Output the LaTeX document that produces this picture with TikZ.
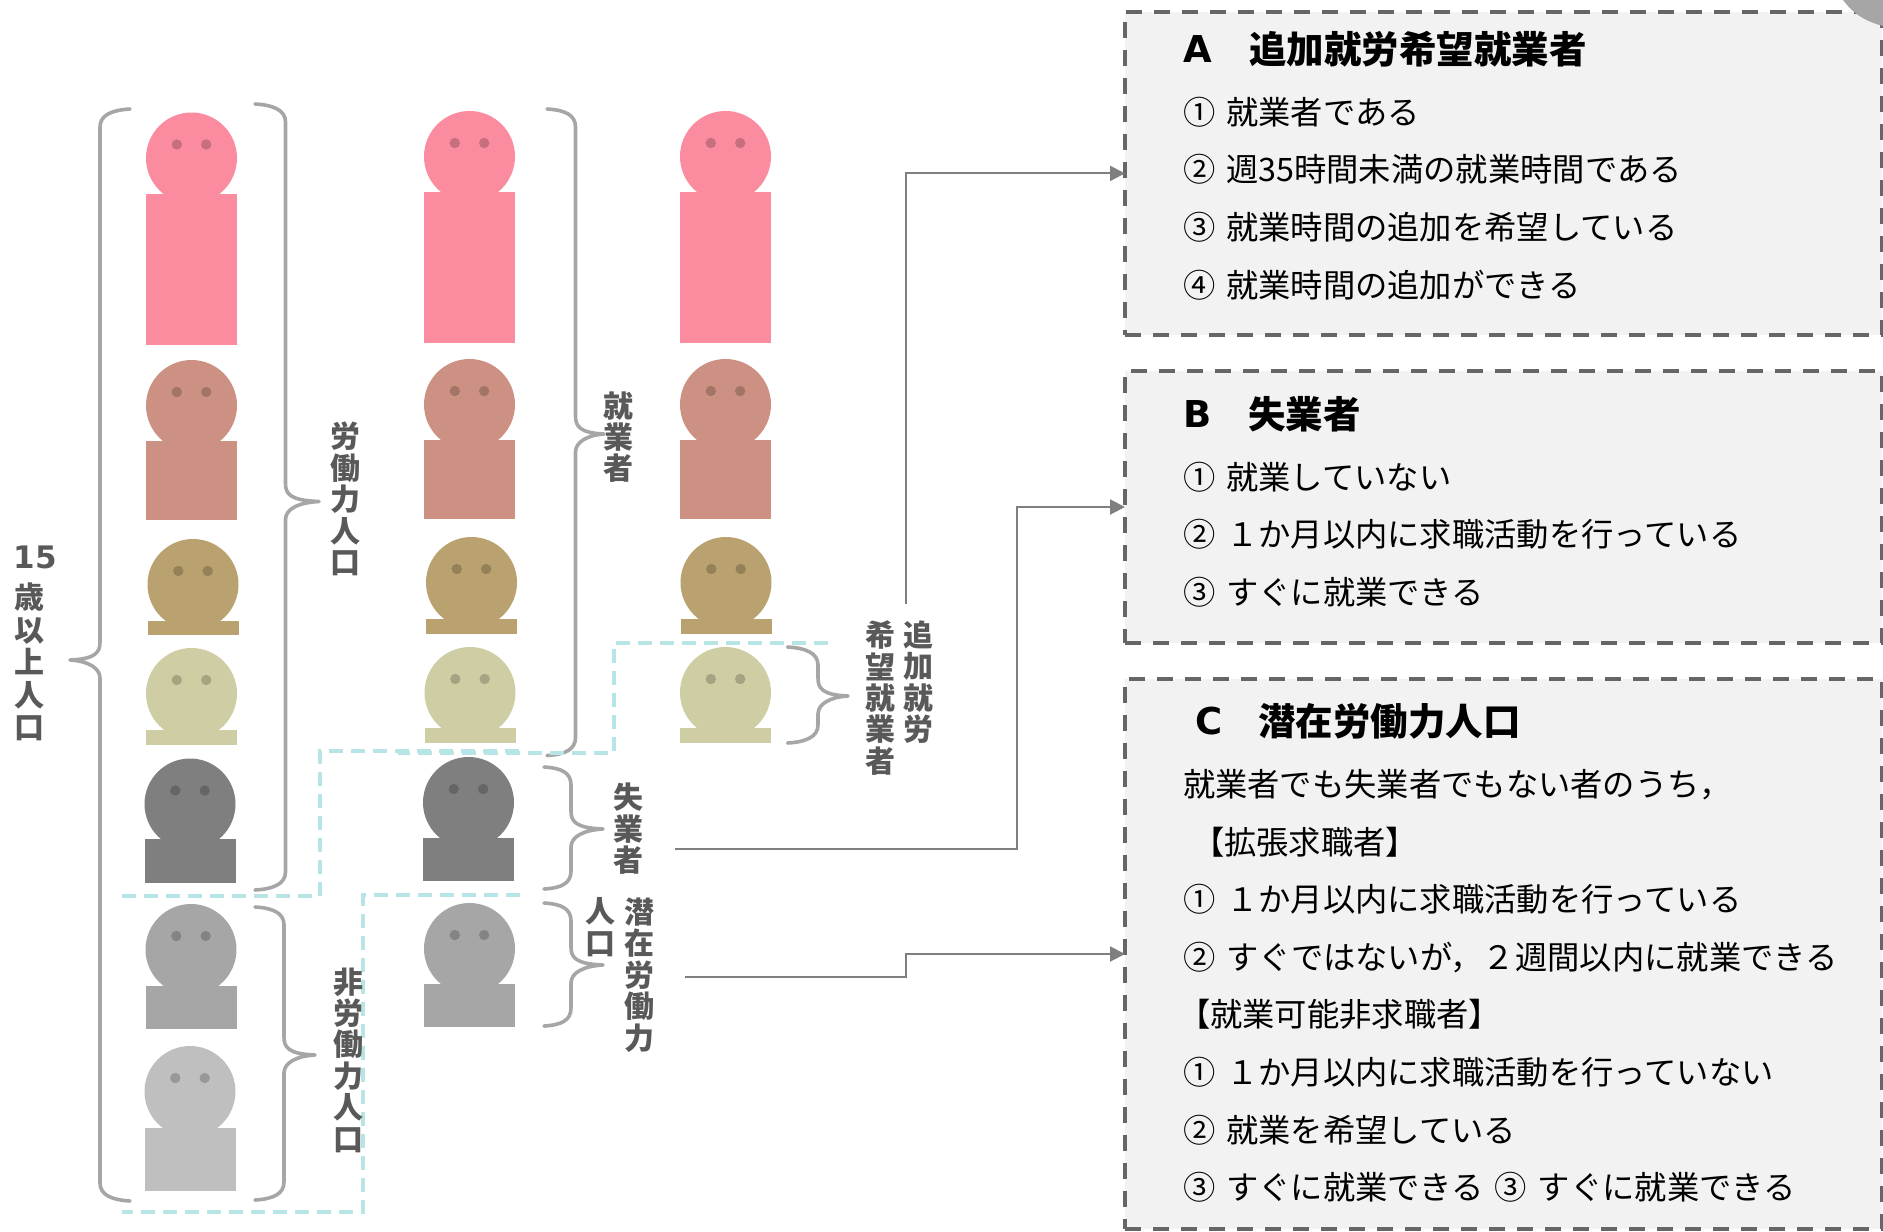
\documentclass[tikz,border=0pt]{standalone}
\usepackage{fontspec}
\setmainfont[WordSpace=1.5]{Noto Sans CJK JP}
\newfontfamily\latinb{DejaVu Sans}
\usetikzlibrary{arrows.meta}
\definecolor{cpink}{HTML}{FB8B9F}
\definecolor{cbrown}{HTML}{CC9183}
\definecolor{ctan}{HTML}{B9A26F}
\definecolor{ccream}{HTML}{CFCDA3}
\definecolor{cdark}{HTML}{7F7F7F}
\definecolor{cgray}{HTML}{A6A6A6}
\definecolor{clight}{HTML}{BFBFBF}
\definecolor{cteal}{HTML}{B7E4E4}
\definecolor{clabel}{HTML}{595959}
\definecolor{cbox}{HTML}{F2F2F2}
\definecolor{cboxline}{HTML}{666666}
\tikzset{
  panel/.style={draw=cboxline,fill=cbox,line width=2pt,dash pattern=on 8pt off 6pt,
    rectangle,inner sep=0pt,outer sep=0pt,minimum width=378.5pt},
  bline/.style={anchor=west,inner sep=0pt,outer sep=0pt,text=black,
    font=\fontsize{16.15}{18}\selectfont,text height=12pt,text depth=0pt},
  btitle/.style={anchor=west,inner sep=0pt,outer sep=0pt,text=black,
    font=\fontsize{18.75}{20}\selectfont\bfseries,text height=14pt,text depth=0pt},
  bletter/.style={anchor=west,inner sep=0pt,outer sep=0pt,text=black,
    font=\fontsize{18.5}{20}\selectfont\latinb\bfseries,text height=13pt,text depth=0pt},
  vlabel/.style={align=center,inner sep=0pt,outer sep=0pt,text=clabel,
    font=\fontsize{15}{15.7}\selectfont\bfseries},
  bracepath/.style={draw=cgray,line width=1.8pt,line cap=round,line join=round},
  tealline/.style={draw=cteal,line width=2pt,dash pattern=on 7pt off 4pt},
  conn/.style={draw=cdark,line width=1pt,-{Triangle[length=7.5pt,width=7.5pt]}},
}
% x centre, head top, body top, body bottom, colour
\newcommand{\figperson}[5]{%
  \fill[#5] (#1,#2+45.5) circle[radius=22.75pt];
  \fill[#5] (#1-45.5,#3) rectangle (#1+45.5,#4);
  \fill[black,opacity=.2] (#1-14.7,#2+32) circle[radius=2.6pt] (#1+14.7,#2+32) circle[radius=2.6pt];
}
% x end, x stem, x tip, y top, y tip, y bottom
\newcommand{\figbrace}[6]{%
  \pgfmathsetmacro{\sg}{(#2>#1)?1:-1}%
  \pgfmathsetmacro{\xa}{#1+\sg*18}%
  \pgfmathsetmacro{\xb}{#2+\sg*4}%
  \pgfmathsetmacro{\xc}{#2+\sg*12}%
  \draw[bracepath] (#1,#4) .. controls (\xa,#4+1) and (#2,#4+6) .. (#2,#4+18)
    -- (#2,#5-18) .. controls (#2,#5-8) and (\xb,#5-1) .. (#3,#5)
    .. controls (\xc,#5+1) and (#2,#5+8) .. (#2,#5+18)
    -- (#2,#6-18) .. controls (#2,#6-6) and (\xa,#6-1) .. (#1,#6);
}
\begin{document}
\begin{tikzpicture}[x=0.5pt,y=-0.5pt]
\useasboundingbox (0,0) rectangle (1883,1231);
\fill[white] (0,0) rectangle (1883,1231);

% column 1
\figperson{191.5}{112.5}{194}{345}{cpink}
\figperson{191.5}{360}{441}{520}{cbrown}
\figperson{193}{539}{620.5}{635}{ctan}
\figperson{191.5}{648}{730}{745}{ccream}
\figperson{190}{758.5}{839}{882.5}{cdark}
\figperson{191}{904}{986}{1029}{cgray}
\figperson{190}{1046}{1128}{1191}{clight}
% column 2
\figperson{469.5}{111}{192}{343}{cpink}
\figperson{469.5}{359}{440}{519}{cbrown}
\figperson{471.5}{537}{619}{634}{ctan}
\figperson{470}{647}{728}{743}{ccream}
\figperson{468.5}{757}{838}{881}{cdark}
\figperson{469.5}{903}{984}{1027}{cgray}
% column 3
\figperson{725.5}{111}{192}{343}{cpink}
\figperson{725.5}{359}{440}{519}{cbrown}
\figperson{726}{537}{619}{634}{ctan}
\figperson{725.5}{647}{728}{743}{ccream}

% braces
\figbrace{130}{100}{70}{109}{660}{1201}
\figbrace{255}{285.5}{319}{104}{501.5}{890}
\figbrace{255}{284}{315}{907}{1055}{1200}
\figbrace{547}{575.5}{604}{109}{434}{755.5}
\figbrace{544}{571}{603}{767}{829}{889}
\figbrace{544}{571}{603}{903}{965}{1026}
\figbrace{787.5}{818}{848}{647}{696}{743}

% dashed separators
\draw[tealline] (828,643) -- (613.5,643) -- (613.5,753) -- (398,753);
\draw[tealline] (519,751) -- (320,751) -- (320,896) -- (120,896);
\draw[tealline] (520,895) -- (362.5,895) -- (362.5,1212) -- (122,1212);

% panels
\node[panel,minimum height=161.65pt] (boxA) at (1503.5,173.4) {};
\node[panel,minimum height=136pt] (boxB) at (1503.5,507) {};
\node[panel,minimum height=275pt] (boxC) at (1503.5,954) {};
\fill[cgray] (1843,0) .. controls (1855,16) and (1868,22) .. (1883,26) -- (1883,0) -- cycle;

% labels
\node[vlabel] (l15) at (35,557) {\fontsize{15.5}{15.5}\selectfont\latinb\bfseries 15};
\node[vlabel,font=\fontsize{15}{16.2}\selectfont\bfseries] (lpop) at (29,662) {歳\\以\\上\\人\\口};
\node[vlabel] (llabor) at (345,499) {労\\働\\力\\人\\口};
\node[vlabel] (lnon) at (348,1060) {非\\労\\働\\力\\人\\口};
\node[vlabel] (lemp) at (618,437) {就\\業\\者};
\node[vlabel] (lunemp) at (628,829) {失\\業\\者};
\node[vlabel] (lpot) at (639,975) {潜\\在\\労\\働\\力};
\node[vlabel] (lpot2) at (600,927) {人\\口};
\node[vlabel] (ladd) at (918,682) {追\\加\\就\\労};
\node[vlabel] (ladd2) at (880,698) {希\\望\\就\\業\\者};

% connectors
\coordinate (fromA) at (906,604);
\coordinate (fromB) at (675,849);
\coordinate (fromC) at (685,977);
\draw[conn] (fromA) |- (boxA.west);
\draw[conn] (fromB) -- (1017,849) |- (boxB.west);
\draw[conn] (fromC) -- (906,977) |- (boxC.west);

% panel A
\node[bletter] (ta0) at (1183,49) {A};
\node[btitle] (ta) at (1249,49) {追加就労希望就業者};
\node[bline] (a1) at (1183,112) {① 就業者である};
\node[bline] (a2) at (1183,169.5) {② 週35時間未満の就業時間である};
\node[bline] (a3) at (1183,227) {③ 就業時間の追加を希望している};
\node[bline] (a4) at (1183,285) {④ 就業時間の追加ができる};
% panel B
\node[bletter] (tb0) at (1183,414) {B};
\node[btitle] (tb) at (1248,414) {失業者};
\node[bline] (b1) at (1183,477) {① 就業していない};
\node[bline] (b2) at (1183,534.5) {② １か月以内に求職活動を行っている};
\node[bline] (b3) at (1183,592) {③ すぐに就業できる};
% panel C
\node[bletter] (tc0) at (1195,721.5) {C};
\node[btitle] (tc) at (1258,721.5) {潜在労働力人口};
\node[bline] (c0) at (1183,784) {就業者でも失業者でもない者のうち，};
\node[bline] (c1) at (1192,842) {【拡張求職者】};
\node[bline] (c2) at (1183,899) {① １か月以内に求職活動を行っている};
\node[bline] (c3) at (1183,957) {② すぐではないが，２週間以内に就業できる};
\node[bline] (c4) at (1178,1014.5) {【就業可能非求職者】};
\node[bline] (c5) at (1183,1072) {① １か月以内に求職活動を行っていない};
\node[bline] (c6) at (1183,1130) {② 就業を希望している};
\node[bline] (c7) at (1183,1187) {③ すぐに就業できる ③ すぐに就業できる};
\end{tikzpicture}
\end{document}
